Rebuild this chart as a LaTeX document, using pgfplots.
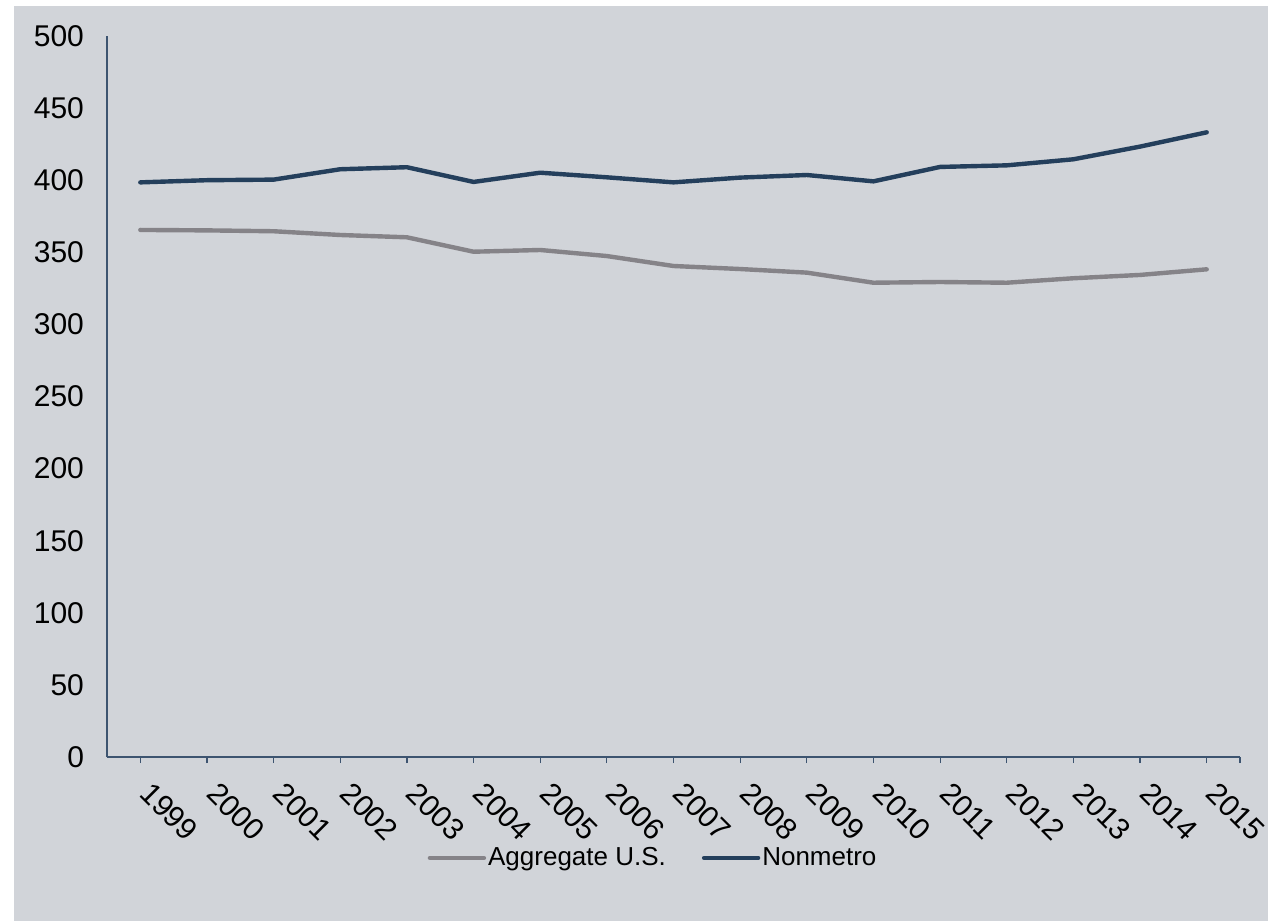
\documentclass[border=0pt]{standalone}
\usepackage{fontspec}
\setmainfont{Liberation Sans}
\usepackage{pgfplots}
\pgfplotsset{compat=1.18}
\definecolor{bgc}{HTML}{D1D4D9}
\definecolor{navy}{HTML}{243F5C}
\definecolor{grayl}{HTML}{858388}
\definecolor{axc}{HTML}{3D5470}
\begin{document}
\begin{tikzpicture}
\fill[white] (0pt,0pt) rectangle (634pt,460.5pt);
\fill[bgc] (7pt,0pt) rectangle (634pt,457.5pt);
\begin{axis}[
  at={(53.5pt,82pt)}, anchor=south west,
  scale only axis, width=566.5pt, height=360.5pt,
  xmin=-0.5, xmax=16.5, ymin=0, ymax=500,
  axis x line*=bottom, axis y line*=left,
  axis line style={axc, line width=0.6pt},
  ytick={0,50,...,500}, ytick style={draw=none},
  xtick={0,...,16}, extra x ticks={16.5}, extra x tick labels={},
  xticklabels={1999,2000,2001,2002,2003,2004,2005,2006,2007,2008,2009,2010,2011,2012,2013,2014,2015},
  x tick style={axc, line width=0.6pt}, tick align=outside, major tick length=3pt,
  /pgf/number format/assume math mode=true,
  /pgf/number format/1000 sep={},
  tick label style={font=\fontsize{15}{17}\selectfont},
  yticklabel style={xshift=-5pt},
  xticklabel style={rotate=-45, anchor=north west, inner sep=0pt, xshift=10.55pt, yshift=-1.45pt},
  legend style={at={(axis description cs:0.482,-0.14)}, anchor=center, draw=none, fill=none,
    font=\fontsize{13}{15}\selectfont, legend columns=2,
    /tikz/every even column/.append style={column sep=17pt},
    nodes={inner xsep=1pt}},
  legend image code/.code={\draw[#1, line width=2.2pt, line cap=round] (0pt,0pt) -- (27pt,0pt);},
  clip=false,
]
\addplot[grayl, line width=2.2pt, line cap=round, line join=round] coordinates {
(0,365.5)(1,365.2)(2,364.6)(3,362)(4,360.4)(5,350.4)(6,351.6)(7,347.4)(8,340.5)(9,338.4)(10,335.9)(11,328.9)(12,329.4)(13,328.9)(14,332)(15,334.3)(16,338.2)};
\addlegendentry{Aggregate U.S.}
\addplot[navy, line width=2.2pt, line cap=round, line join=round] coordinates {
(0,398.5)(1,400)(2,400.4)(3,407.6)(4,409)(5,398.8)(6,405.2)(7,402)(8,398.5)(9,401.8)(10,403.6)(11,399.2)(12,409.2)(13,410.3)(14,414.5)(15,423.3)(16,433.2)};
\addlegendentry{Nonmetro}
\end{axis}
\end{tikzpicture}
\end{document}
